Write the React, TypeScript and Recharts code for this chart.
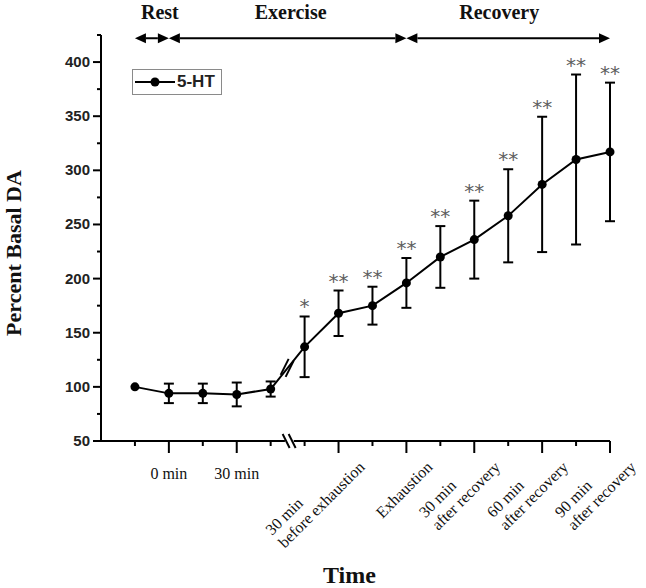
import React from 'react';
import { LineChart, Line, XAxis, YAxis, ErrorBar, ReferenceLine, ReferenceDot, Legend } from 'recharts';

// ---- data ----
const timeIndex = [0, 1, 2, 3, 4, 5, 6, 7, 8, 9, 10, 11, 12, 13, 14];
const basalDA = [100, 94, 94, 93, 98, 137, 168, 175, 196, 220, 236, 258, 287, 310, 317];
const basalSEM = [0, 9, 9, 11, 7, 28, 21, 17.5, 23, 28.5, 36, 43, 62.5, 78.5, 64];
const significance = ['', '', '', '', '', '*', '**', '**', '**', '**', '**', '**', '**', '**', '**'];

const labelledTicks = [1, 3, 6, 8, 10, 12, 14];
const tickLabelText = [
  ['0 min'],
  ['30 min'],
  ['30 min', 'before exhaustion'],
  ['Exhaustion'],
  ['30 min', 'after recovery'],
  ['60 min', 'after recovery'],
  ['90 min', 'after recovery'],
];
const breakAfter = 4; // axis break between index 4 and 5

const yTicks = [50, 75, 100, 125, 150, 175, 200, 225, 250, 275, 300, 325, 350, 375, 400, 425];

const phaseNames = ['Rest', 'Exercise', 'Recovery'];
const phaseStart = [0, 1, 8];
const phaseEnd = [1, 8, 14];
const phaseLevel = 422;

const seriesName = '5-HT';

const rows = timeIndex.map((t, i) => ({
  t,
  v: basalDA[i],
  err: basalSEM[i] || null,
  upper: basalDA[i] + basalSEM[i],
  sig: significance[i],
}));

// ---- helpers ----
let ctx: CanvasRenderingContext2D | null = null;
const measure = (s: string, font: string) => {
  if (!ctx) ctx = document.createElement('canvas').getContext('2d');
  if (!ctx) return s.length * 7;
  ctx.font = font;
  return ctx.measureText(s).width;
};

const SERIF = '"Liberation Serif", "Times New Roman", serif';
const SANS = '"Liberation Sans", Arial, sans-serif';

const XTick = (props: any) => {
  const { x, y, payload } = props;
  const idx = payload.value;
  const li = labelledTicks.indexOf(idx);
  const major = li >= 0;
  const len = major ? 12 : 5;
  let label: any = null;
  if (major) {
    const lines = tickLabelText[li];
    if (idx <= breakAfter) {
      label = (
        <text x={x} y={y + 38} textAnchor="middle" fontFamily={SERIF} fontSize={16} fill="#111">
          {lines[0]}
        </text>
      );
    } else {
      const font = `16px ${SERIF}`;
      const maxW = Math.max(...lines.map((l) => measure(l, font)));
      const lh = 18;
      const n = lines.length;
      label = (
        <g transform={`translate(${x + 27},${y + 27}) rotate(-45)`}>
          <text fontFamily={SERIF} fontSize={16} fill="#111" textAnchor="start">
            {lines.map((l, i) => (
              <tspan key={i} x={-maxW} y={(i - (n - 1)) * lh}>
                {l}
              </tspan>
            ))}
          </text>
        </g>
      );
    }
  }
  return (
    <g>
      <line x1={x} x2={x} y1={y} y2={y + len} stroke="#000" strokeWidth={2} />
      {label}
    </g>
  );
};

const YTick = (props: any) => {
  const { x, y, payload } = props;
  const v = payload.value;
  const major = v % 50 === 0;
  return (
    <g>
      <line x1={x - (major ? 8 : 4)} x2={x} y1={y} y2={y} stroke="#000" strokeWidth={2} />
      {major && (
        <text x={x - 11} y={y} dy={5} textAnchor="end" fontFamily={SANS} fontWeight="bold" fontSize={15} fill="#222">
          {v}
        </text>
      )}
    </g>
  );
};

const makeArrow = (name: string, dx: number) => (p: any) => {
  const { x1, y1, x2, y2 } = p;
  const h = 11;
  const w = 5;
  return (
    <g>
      <line x1={x1 + h} y1={y1} x2={x2 - h} y2={y2} stroke="#000" strokeWidth={2} />
      <polygon points={`${x1},${y1} ${x1 + h},${y1 - w} ${x1 + h},${y1 + w}`} fill="#000" />
      <polygon points={`${x2},${y2} ${x2 - h},${y2 - w} ${x2 - h},${y2 + w}`} fill="#000" />
      <text x={(x1 + x2) / 2 + dx} y={y1 - 19.5} textAnchor="middle" fontFamily={SERIF} fontWeight="bold" fontSize={20} fill="#111">
        {name}
      </text>
    </g>
  );
};
const phaseDx = [8, 3, -9];

const SigDot = (p: any) => {
  const { cx, cy, index, payload } = p;
  if (!payload || !payload.sig || cx == null || cy == null) return <g key={`s${index}`} />;
  return (
    <text key={`s${index}`} x={cx} y={cy - 3} textAnchor="middle" fontFamily='"DejaVu Sans", sans-serif' fontSize={20} fill="#5e5e5e">
      {payload.sig}
    </text>
  );
};

const AxisBreak = (p: any) => {
  const { cx, cy } = p;
  return (
    <g>
      <line x1={cx - 5} y1={cy - 7} x2={cx + 2} y2={cy + 7} stroke="#000" strokeWidth={2} />
      <line x1={cx + 1} y1={cy - 7} x2={cx + 8} y2={cy + 7} stroke="#000" strokeWidth={2} />
    </g>
  );
};

const LineBreak = (p: any) => {
  const { cx, cy } = p;
  return (
    <g>
      <line x1={cx - 7} y1={cy + 7} x2={cx + 1} y2={cy - 9} stroke="#000" strokeWidth={2} />
      <line x1={cx - 2} y1={cy + 9} x2={cx + 6} y2={cy - 7} stroke="#000" strokeWidth={2} />
    </g>
  );
};

const LegendBox = () => (
  <div
    style={{
      border: '1px solid #8a8a8a',
      width: 88,
      height: 24,
      display: 'flex',
      alignItems: 'center',
      background: '#fff',
      boxSizing: 'content-box',
    }}
  >
    <svg width={44} height={24}>
      <line x1={2} x2={42} y1={12} y2={12} stroke="#000" strokeWidth={2} />
      <circle cx={22} cy={12} r={4.5} fill="#000" />
    </svg>
    <span style={{ fontFamily: SANS, fontWeight: 'bold', fontSize: 17, color: '#222', lineHeight: '24px' }}>{seriesName}</span>
  </div>
);

export default function App() {
  const breakMid = (basalDA[breakAfter] + basalDA[breakAfter + 1]) / 2;
  return (
    <div style={{ position: 'absolute', left: 0, top: 0, width: 646, height: 588, background: '#fff' }}>
      <LineChart width={646} height={588} data={rows} margin={{ top: 35, right: 36, bottom: 0, left: 41 }}>
        <XAxis
          dataKey="t"
          type="number"
          domain={[-1, 14]}
          ticks={timeIndex}
          interval={0}
          axisLine={false}
          tickLine={false}
          tickSize={0}
          tickMargin={0}
          height={147}
          tick={(p: any) => <XTick {...p} />}
          label={{
            content: (p: any) => {
              const vb = p.viewBox || { x: 101, y: 441, width: 509, height: 147 };
              return (
                <text x={vb.x + vb.width / 2 - 6} y={vb.y + 142} textAnchor="middle" fontFamily={SERIF} fontWeight="bold" fontSize={24} fill="#111">
                  Time
                </text>
              );
            },
          }}
        />
        <YAxis
          type="number"
          domain={[50, 425]}
          ticks={yTicks}
          interval={0}
          axisLine={{ stroke: '#000', strokeWidth: 2 }}
          tickLine={false}
          tickSize={0}
          tickMargin={0}
          width={60}
          tick={(p: any) => <YTick {...p} />}
          label={{
            content: (p: any) => {
              const vb = p.viewBox || { x: 41, y: 35, width: 60, height: 406 };
              return (
                <text
                  transform={`translate(${vb.x - 20},${vb.y + vb.height / 2 + 15}) rotate(-90)`}
                  textAnchor="middle"
                  fontFamily={SERIF}
                  fontWeight="bold"
                  fontSize={22}
                  fill="#111"
                >
                  Percent Basal DA
                </text>
              );
            },
          }}
        />
        <Legend
          layout="horizontal"
          verticalAlign="middle"
          align="center"
          content={() => <LegendBox />}
          wrapperStyle={{ position: 'absolute', left: 132, top: 69, width: 'auto' }}
        />
        {/* x axis line with break */}
        <ReferenceLine
          segment={[{ x: -1, y: 50 }, { x: breakAfter + 0.42, y: 50 }]}
          stroke="#000"
          strokeWidth={2}
          ifOverflow="visible"
        />
        <ReferenceLine
          segment={[{ x: breakAfter + 0.68, y: 50 }, { x: 14, y: 50 }]}
          stroke="#000"
          strokeWidth={2}
          ifOverflow="visible"
        />
        <ReferenceDot x={breakAfter + 0.5} y={50} ifOverflow="visible" shape={AxisBreak} />
        {phaseNames.map((name, i) => (
          <ReferenceLine
            key={name}
            segment={[{ x: phaseStart[i], y: phaseLevel }, { x: phaseEnd[i], y: phaseLevel }]}
            ifOverflow="visible"
            shape={makeArrow(name, phaseDx[i])}
          />
        ))}
        <Line
          dataKey="v"
          name={seriesName}
          stroke="#000"
          strokeWidth={2}
          dot={{ r: 4.5, fill: '#000', stroke: '#000', strokeWidth: 0 }}
          activeDot={false}
          isAnimationActive={false}
        >
          <ErrorBar dataKey="err" width={5} stroke="#000" strokeWidth={2} direction="y" isAnimationActive={false} />
        </Line>
        <Line
          dataKey="upper"
          stroke="none"
          dot={SigDot}
          activeDot={false}
          legendType="none"
          isAnimationActive={false}
        />
        <ReferenceDot x={breakAfter + 0.5} y={breakMid} ifOverflow="visible" shape={LineBreak} />
      </LineChart>
    </div>
  );
}
